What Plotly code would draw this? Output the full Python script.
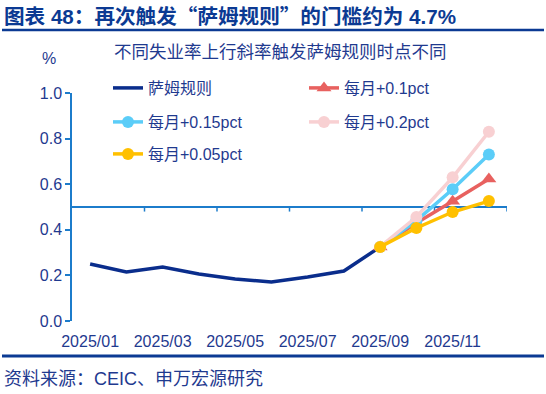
import plotly.graph_objects as go

months = ["2025/01", "2025/02", "2025/03", "2025/04", "2025/05", "2025/06",
          "2025/07", "2025/08", "2025/09", "2025/10", "2025/11", "2025/12"]
sahm = [0.25, 0.215, 0.237, 0.206, 0.184, 0.171, 0.193, 0.219, 0.325]
proj_months = ["2025/09", "2025/10", "2025/11", "2025/12"]
p010 = [0.325, 0.43, 0.525, 0.623]
p015 = [0.325, 0.44, 0.578, 0.73]
p020 = [0.325, 0.456, 0.63, 0.83]
p005 = [0.325, 0.408, 0.478, 0.526]
tick_labels = ["2025/01", "2025/03", "2025/05", "2025/07", "2025/09", "2025/11"]
y_ticks = [0.0, 0.2, 0.4, 0.6, 0.8, 1.0]
boundary_ticks = [1.5, 3.5, 5.5, 7.5, 9.5, 11.5]
cross_value = 0.5

TXT = "#1F3A8F"
AX = "#1C7CCB"
FONT = "Liberation Sans, Arial, Noto Sans CJK SC"

L, R, T, B = 72, 507, 93, 321
W, H = 546, 394

def px_x(p):
    return (p - L) / (R - L)

def px_y(p):
    return (B - p) / (B - T)

fig = go.Figure()
fig.add_trace(go.Scatter(x=months[:len(sahm)], y=sahm, name="萨姆规则", mode="lines",
                         line=dict(color="#0A2D8C", width=3.5), legend="legend"))
fig.add_trace(go.Scatter(x=proj_months, y=p010, name="每月+0.1pct", mode="lines+markers",
                         line=dict(color="#E8615F", width=3.5),
                         marker=dict(symbol="triangle-up", size=13, color="#E8615F"), legend="legend2"))
fig.add_trace(go.Scatter(x=proj_months, y=p015, name="每月+0.15pct", mode="lines+markers",
                         line=dict(color="#5BCDF8", width=3.5),
                         marker=dict(symbol="circle", size=12, color="#5BCDF8"), legend="legend3"))
fig.add_trace(go.Scatter(x=proj_months, y=p020, name="每月+0.2pct", mode="lines+markers",
                         line=dict(color="#F8D0D2", width=3.5),
                         marker=dict(symbol="circle", size=12, color="#F8D0D2"), legend="legend4"))
fig.add_trace(go.Scatter(x=proj_months, y=p005, name="每月+0.05pct", mode="lines+markers",
                         line=dict(color="#FFC000", width=3.5),
                         marker=dict(symbol="circle", size=12, color="#FFC000"), legend="legend5"))

def leg(xp, yp):
    return dict(x=px_x(xp), y=px_y(yp), xanchor="left", yanchor="middle",
                bgcolor="rgba(0,0,0,0)", font=dict(family=FONT, size=16, color=TXT))

title_txt = ("<b>图表 48：再次触发<span style=\"font-family:'Noto Sans CJK SC'\">“</span>萨姆规则"
             "<span style=\"font-family:'Noto Sans CJK SC'\">”</span>的门槛约为 4.7%</b>")

shapes = [
    dict(type="line", xref="paper", yref="y", x0=0, x1=1,
         y0=cross_value, y1=cross_value, line=dict(color=AX, width=2), layer="below"),
]
for bt in boundary_ticks:
    shapes.append(dict(type="line", xref="x", yref="y", x0=bt, x1=bt,
                       y0=cross_value, y1=cross_value - 0.02,
                       line=dict(color=AX, width=1.5), layer="below"))
shapes += [
    dict(type="line", xref="paper", yref="paper", x0=px_x(2), x1=px_x(544),
         y0=px_y(30), y1=px_y(30), line=dict(color="#0B3A93", width=2.5)),
    dict(type="line", xref="paper", yref="paper", x0=px_x(2), x1=px_x(544),
         y0=px_y(356), y1=px_y(356), line=dict(color="#0B3A93", width=3)),
]

fig.update_layout(
    width=W, height=H,
    margin=dict(l=L, r=W - R, t=T, b=H - B),
    paper_bgcolor="white", plot_bgcolor="white",
    font=dict(family=FONT, color=TXT),
    showlegend=True,
    legend=leg(108, 88),
    legend2=leg(304, 88),
    legend3=leg(108, 122),
    legend4=leg(304, 122),
    legend5=leg(108, 154),
    xaxis=dict(type="category", categoryorder="array", categoryarray=months,
               range=[-0.5, 11.5], showline=False, showgrid=False, zeroline=False,
               tickvals=tick_labels, ticktext=tick_labels,
               ticks="outside", ticklen=6, tickcolor="rgba(0,0,0,0)",
               tickfont=dict(family=FONT, size=16, color=TXT)),
    yaxis=dict(range=[0, 1.0], tickvals=y_ticks, tickformat=".1f",
               showline=True, linecolor=AX, linewidth=1.5, showgrid=False, zeroline=False,
               ticks="outside", ticklen=5, tickcolor=AX, tickwidth=1.5,
               tickfont=dict(family=FONT, size=16, color=TXT)),
    annotations=[
        dict(text=title_txt, xref="paper", yref="paper",
             x=px_x(2), y=px_y(15), xanchor="left", yanchor="middle", showarrow=False,
             font=dict(family=FONT, size=20.6, color="#0B3A93")),
        dict(text="不同失业率上行斜率触发萨姆规则时点不同", xref="paper", yref="paper",
             x=px_x(280), y=px_y(52), xanchor="center", yanchor="middle", showarrow=False,
             font=dict(family=FONT, size=17.5, color=TXT)),
        dict(text="%", xref="paper", yref="paper",
             x=px_x(49), y=px_y(58), xanchor="center", yanchor="middle", showarrow=False,
             font=dict(family=FONT, size=16, color=TXT)),
        dict(text="资料来源：CEIC、申万宏源研究", xref="paper", yref="paper",
             x=px_x(2), y=px_y(379), xanchor="left", yanchor="middle", showarrow=False,
             font=dict(family=FONT, size=18, color=TXT)),
    ],
    shapes=shapes,
)

fig.write_html("out.html", config={"displayModeBar": False},
               post_script="document.body.style.margin='0';")
